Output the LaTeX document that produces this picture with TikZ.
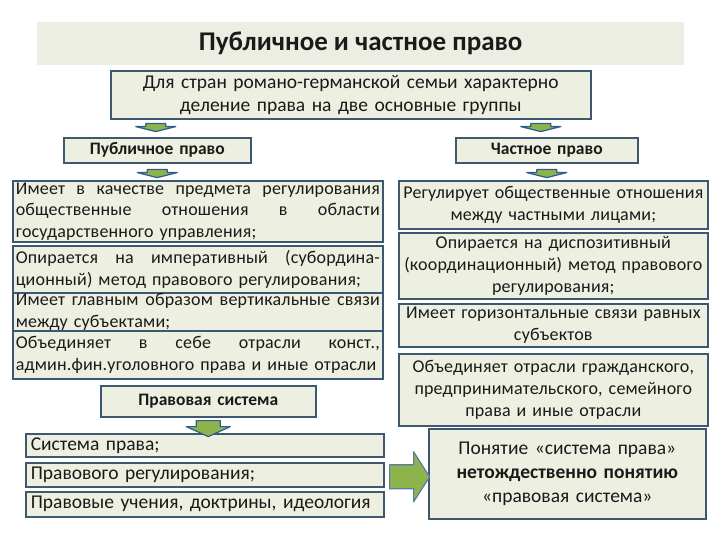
\documentclass[tikz,border=0pt]{standalone}
\usepackage{fontspec}
\setmainfont{Carlito}
\newfontfamily\sparse[LetterSpace=1]{Carlito}
\usetikzlibrary{calc}
\definecolor{boxc}{HTML}{EDEFE1}
\definecolor{bandc}{HTML}{EDEEE3}
\definecolor{bordc}{HTML}{3E5870}
\definecolor{arrg}{HTML}{8DB34C}
\definecolor{arrb}{HTML}{2F5D8F}
\definecolor{txt}{HTML}{1A1A1A}
\tikzset{
  box/.style={draw=bordc, line width=1.6pt, fill=boxc, inner sep=0pt, anchor=north west, align=center, text=txt},
  smallarrow/.style={fill=arrg, draw=arrb, line width=1.2pt, line join=round},
  bigarrow/.style={fill=arrg, draw=arrb!80!white, line width=1.2pt, line join=round},
}
\newcommand{\jl}[2]{\leavevmode\hbox to #1{\spaceskip=0.25em plus 1fil\xspaceskip=0.25em plus 1fil\relax #2}}
\newcommand{\flatarrow}[1]{\draw[smallarrow] (#1) ++(-10,-3) -- ++(20,0) -- ++(0,3) -- ++(10,0) -- ++(-20,5) -- ++(-20,-5) -- ++(10,0) -- cycle;}
\begin{document}
\begin{tikzpicture}[x=1pt,y=-1pt]
\useasboundingbox (0,0) rectangle (720,540);
\fill[white] (0,0) rectangle (720,540);
% title band
\node[fill=bandc, inner sep=0pt, anchor=north west, minimum width=647pt, minimum height=43pt,
  font=\fontsize{27}{30}\selectfont\bfseries, text=txt] (title) at (37,22) {Публичное и частное право};
% top box
\node[box, minimum width=480pt, minimum height=48pt, text width=474pt,
  font=\fontsize{19.5}{23}\selectfont] (top) at (110,70)
  {Для стран романо-германской семьи характерно\\деление права на две основные группы};
% headers
\node[box, minimum width=187pt, minimum height=25pt, text width=181pt,
  font=\fontsize{17.5}{20}\selectfont\bfseries] (pub) at (63,137) {Публичное право};
\node[box, minimum width=182pt, minimum height=25pt, text width=176pt,
  font=\fontsize{17.5}{20}\selectfont\bfseries] (priv) at (455,137) {Частное право};
% left column
\begin{scope}[every node/.append style={box, minimum width=370pt, text width=364pt, align=left,
  font=\sparse\fontsize{18}{21.5}\selectfont}]
\node[minimum height=61pt] (l1) at (12,180)
  {\jl{364pt}{Имеет в качестве предмета регулирования}\\\jl{364pt}{общественные отношения в области}\\государственного управления;};
\node[minimum height=47pt] (l2) at (12,245)
  {\jl{364pt}{Опирается на императивный (субордина-}\\ционный) метод правового регулирования;};
\node[minimum height=38pt] (l3) at (12,292)
  {\jl{364pt}{Имеет главным образом вертикальные связи}\\между субъектами;};
\node[minimum height=48pt] (l4) at (12,330)
  {\jl{364pt}{Объединяет в себе отрасли конст.,}\\админ.фин.уголовного права и иные отрасли};
\end{scope}
% right column
\begin{scope}[every node/.append style={box, minimum width=309pt, text width=305pt,
  font=\sparse\fontsize{18}{22}\selectfont}]
\node[minimum height=48pt] (r1) at (398,180)
  {Регулирует общественные отношения\\между частными лицами;};
\node[minimum height=66pt] (r2) at (398,232)
  {Опирается на диспозитивный\\(координационный) метод правового\\регулирования;};
\node[minimum height=43pt] (r3) at (398,303)
  {Имеет горизонтальные связи равных\\субъектов};
\node[minimum height=72pt] (r4) at (398,353)
  {Объединяет отрасли гражданского,\\предпринимательского, семейного\\права и иные отрасли};
\end{scope}
% legal system
\node[box, minimum width=215pt, minimum height=31pt, text width=209pt,
  font=\fontsize{17.5}{20}\selectfont\bfseries] (ps) at (100,385) {Правовая система};
\begin{scope}[every node/.append style={box, minimum width=358pt, text width=348pt, align=left,
  font=\fontsize{19.5}{22}\selectfont}]
\node[minimum height=23pt] (b1) at (25,433) {Система права;};
\node[minimum height=24pt] (b2) at (25,462) {Правового регулирования;};
\node[minimum height=25pt] (b3) at (25,491) {Правовые учения, доктрины, идеология};
\end{scope}
\node[box, minimum width=277pt, minimum height=90pt, text width=271pt,
  font=\fontsize{19.5}{24}\selectfont] (res) at (428,428)
  {Понятие «система права»\\\textbf{нетождественно понятию}\\«правовая система»};
% small arrows
\coordinate (a1) at ($(top.south)+(-195,7)$);
\coordinate (a2) at ($(top.south)+(190,7)$);
\coordinate (a3) at ($(pub.south)+(0,9)$);
\coordinate (a4) at ($(priv.south)+(0,9)$);
\flatarrow{a1}
\flatarrow{a2}
\flatarrow{a3}
\flatarrow{a4}
% green down arrow
\coordinate (a5) at ($(ps.south)+(0,3)$);
\draw[smallarrow] (a5) ++(-12,0) -- ++(24,0) -- ++(0,6) -- ++(10,0) -- ++(-22,10) -- ++(-22,-10) -- ++(10,0) -- cycle;
% big right arrow
\coordinate (a6) at ($(b2.east)+(5,2)$);
\draw[bigarrow] (a6) ++(0,-12) -- ++(24,0) -- ++(0,-13) -- ++(16,25) -- ++(-16,25) -- ++(0,-13) -- ++(-24,0) -- cycle;
\end{tikzpicture}
\end{document}
